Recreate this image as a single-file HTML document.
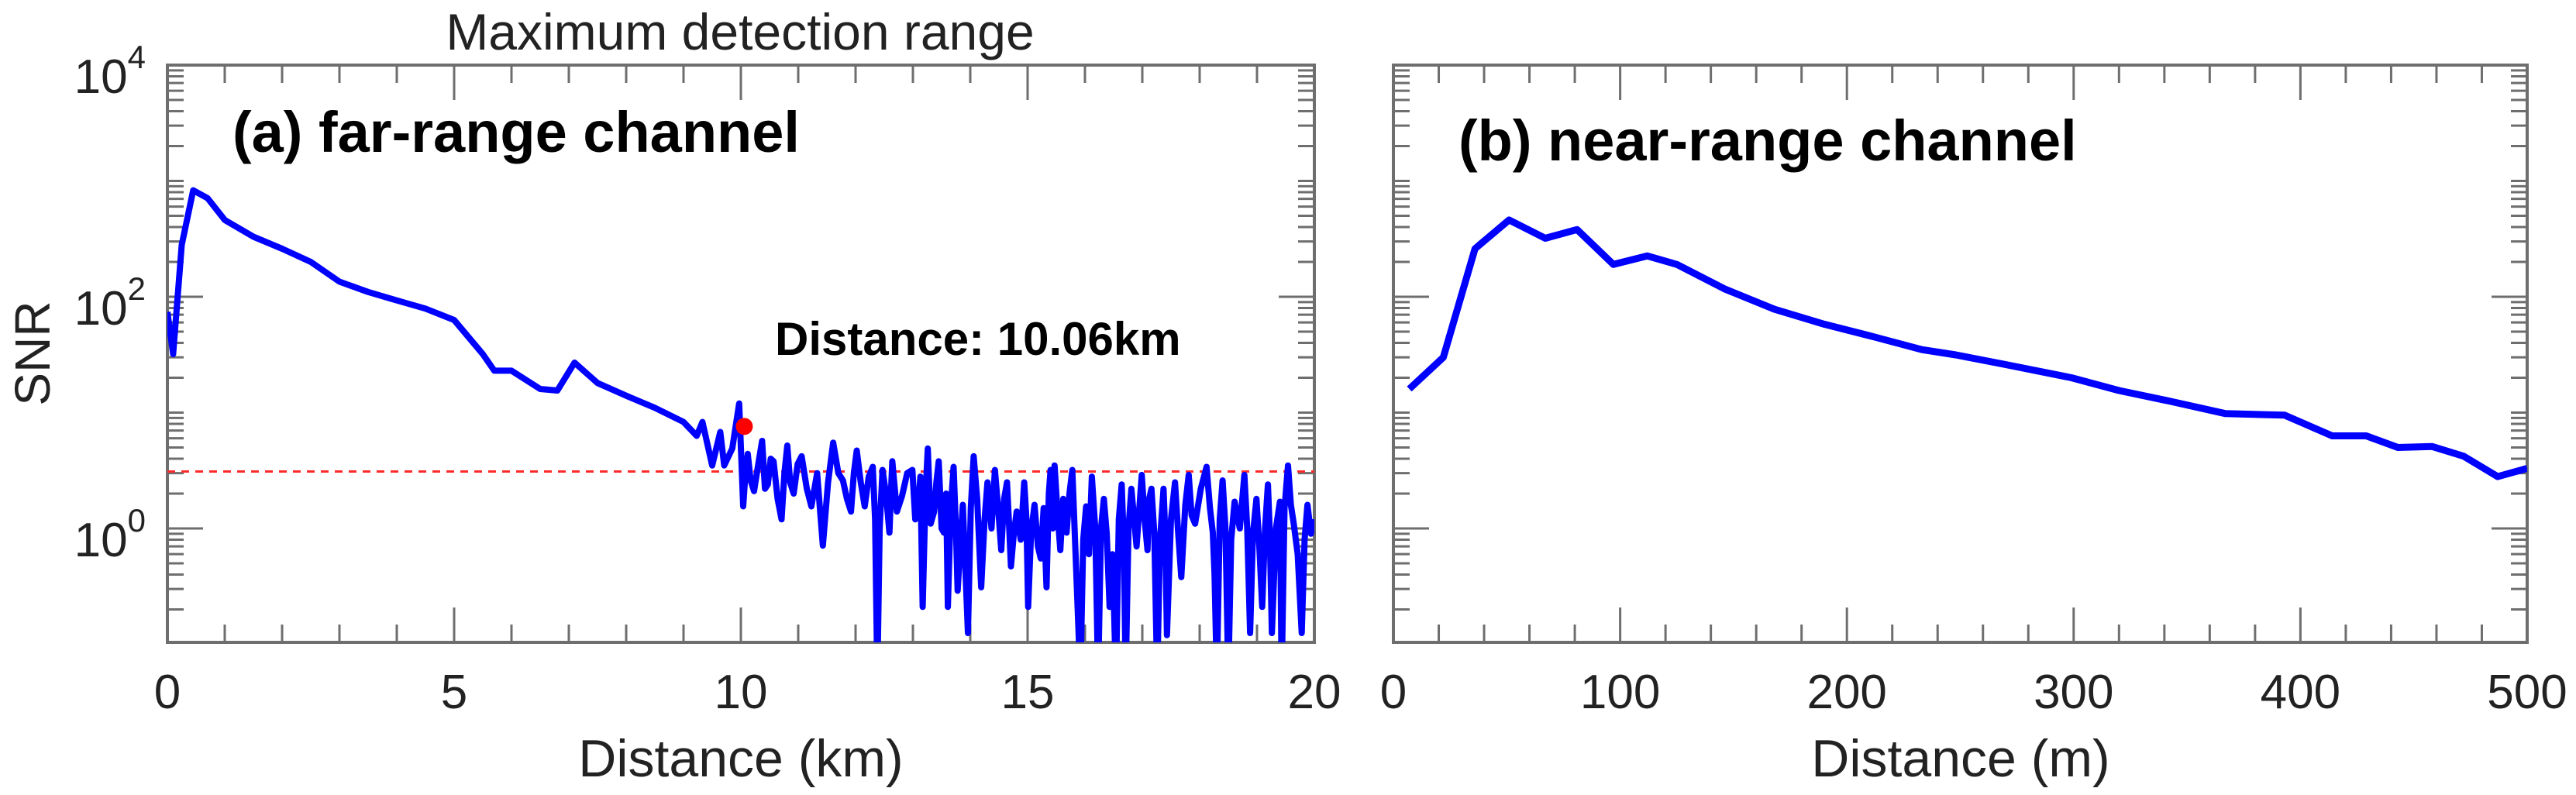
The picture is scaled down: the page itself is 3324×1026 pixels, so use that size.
<!DOCTYPE html>
<html><head><meta charset="utf-8"><style>
html,body{margin:0;padding:0;background:#fff;}
svg{display:block;font-family:"Liberation Sans",Arial,sans-serif;}
</style></head><body>
<svg id="chart" width="3324" height="1026" viewBox="0 0 3324 1026" xmlns="http://www.w3.org/2000/svg">
<g id="root"></g>
</svg>
<script>
// ---- Panel (a) far-range data ----
const farDist = [0,0.1,0.25,0.45,0.7,1.0,1.5,2.0,2.5,3.0,3.5,4.0,4.5,5.0,5.5,5.7,6.0,6.5,6.8,7.1,7.5,8.0,8.5,9.0,9.23,9.33,9.5,9.64,9.71,9.85,9.97,
10.04,10.08,10.12,10.17,10.23,10.30,10.37,10.42,10.47,10.52,10.57,10.64,10.71,10.76,10.81,10.86,10.92,10.99,11.06,11.15,11.23,11.33,11.43,11.52,11.61,11.70,11.78,11.85,11.92,11.97,
12.02,12.09,12.16,12.23,12.30,12.34,12.38,12.42,12.47,12.53,12.59,12.62,12.64,12.72,12.81,12.90,12.99,13.04,13.09,13.13,13.17,13.22,13.26,13.31,13.37,13.41,13.45,13.50,13.54,13.58,13.61,13.66,13.71,13.75,13.78,13.87,13.96,
14.01,14.06,14.12,14.19,14.25,14.30,14.37,14.43,14.49,14.54,14.59,14.64,14.68,14.71,14.76,14.81,14.88,14.94,14.98,15.01,15.06,15.12,15.18,15.23,15.28,15.33,15.37,15.40,15.44,15.47,15.52,15.57,15.62,15.68,15.73,15.78,15.85,15.92,15.97,
16.02,16.07,16.12,16.18,16.23,16.28,16.33,16.38,16.43,16.48,16.54,16.59,16.64,16.68,16.71,16.76,16.81,16.90,16.99,17.04,17.09,17.12,17.16,17.21,17.26,17.31,17.37,17.40,17.43,17.50,17.57,17.62,17.68,17.75,17.81,17.86,17.92,
18.02,18.12,18.18,18.23,18.26,18.30,18.35,18.40,18.45,18.50,18.55,18.61,18.70,18.78,18.83,18.88,18.93,18.99,19.04,19.09,19.14,19.19,19.22,19.26,19.33,19.40,19.43,19.48,19.54,19.59,19.64,19.71,19.78,19.83,19.88,19.94,20.0];
const farSNR = [74,32,280,830,710,460,330,260,200,135,110,93,79,63,32,23,23,16,15.5,27,18,14,11,8.3,6.3,8.3,3.5,6.8,3.5,4.9,12,
1.55,3.0,4.4,2.6,2.1,3.5,5.7,2.2,2.4,4.0,3.8,1.8,1.2,3.0,5.2,2.5,2.0,3.6,4.2,2.2,1.55,3.0,0.71,2.5,5.5,3.0,2.6,1.8,1.4,3.0,
4.7,2.5,1.55,2.8,3.4,1.2,0.05,1.0,3.2,2.0,0.92,2.2,3.8,1.4,1.9,3.0,3.2,1.2,1.5,2.8,0.21,2.0,4.9,1.1,1.4,2.5,3.8,1.0,0.92,2.0,0.21,1.5,3.4,1.0,0.29,1.6,0.125,
1.5,4.2,1.8,0.31,1.2,2.5,1.0,3.2,1.4,0.65,1.8,2.5,1.0,0.47,0.9,1.4,0.8,2.5,1.2,0.21,0.9,1.6,0.7,0.55,1.5,0.31,2.0,3.2,1.0,3.5,1.4,0.65,1.8,0.92,2.0,3.2,0.4,0.05,0.8,
1.55,0.6,2.8,1.0,0.05,1.0,1.8,0.9,0.21,0.6,0.05,1.2,2.4,0.7,0.05,1.0,2.2,0.7,2.9,1.2,0.65,1.8,2.2,0.9,0.05,0.8,2.2,0.9,0.12,1.2,2.5,1.0,0.38,1.6,2.9,1.3,1.1,
2.2,3.4,1.5,0.92,0.4,0.05,1.2,2.6,1.0,0.05,0.8,1.7,1.0,2.9,1.0,0.125,0.9,1.8,0.7,0.21,1.0,2.4,1.0,0.125,1.0,1.7,0.05,1.5,3.5,1.6,1.1,0.6,0.125,0.8,1.6,0.9,1.2];
const markerDist = [10.06];
const markerSNR = [7.6];
const thresholdSNR = [3.1];
const farXTicks = [0,5,10,15,20];
const farXTickLabels = ["0","5","10","15","20"];
// ---- Panel (b) near-range data ----
const nearDist = [7,22,36,51,67,81,97,112,125,146,168,190,212,233,248,270,299,320,342,367,393,414,429,443,458,472,487,500];
const nearSNR = [16,30,260,460,320,380,190,225,190,117,78,58,45,35,31.5,26,20,15.5,12.6,9.8,9.5,6.3,6.3,5.0,5.1,4.2,2.8,3.3];
const nearXTicks = [0,100,200,300,400,500];
const nearXTickLabels = ["0","100","200","300","400","500"];
const yTickLabels = ["10","10","10"];
const yTickExps = ["0","2","4"];

const NS="http://www.w3.org/2000/svg";
const root=document.getElementById('root');
function mk(tag,attrs,parent){const e=document.createElementNS(NS,tag);for(const k in attrs)e.setAttribute(k,attrs[k]);(parent||root).appendChild(e);return e;}
const AX="#6e6e6e";
const TOP=84,BOT=829,DEC=149.5;
function yScale(v){return TOP+(4-Math.log10(Math.max(v,1e-3)))*DEC;}
const panels=[
 {name:'far-range',x0:216,x1:1696,xmin:0,xmax:20,minor:1,ticks:farXTicks,labels:farXTickLabels},
 {name:'near-range',x0:1798,x1:3261,xmin:0,xmax:500,minor:20,ticks:nearXTicks,labels:nearXTickLabels}
];
panels.forEach((p,pi)=>{
 p.xs=v=>p.x0+(v-p.xmin)/(p.xmax-p.xmin)*(p.x1-p.x0);
 const g=mk('g',{});
 
 
 p.g=g;
 const cid='clip'+pi;
 const cp=mk('clipPath',{id:cid},g);mk('rect',{x:p.x0,y:TOP,width:p.x1-p.x0,height:BOT-TOP},cp);
 p.clip=cid;
 for(let v=p.xmin;v<=p.xmax+1e-9;v+=p.minor){
  const major=p.ticks.some(t=>Math.abs(t-v)<1e-9);
  const L=major?45:23,x=p.xs(v);
  const t1=mk('line',{x1:x,y1:BOT,x2:x,y2:BOT-L,stroke:AX,'stroke-width':3},g);
  
  
  mk('line',{x1:x,y1:TOP,x2:x,y2:TOP+L,stroke:AX,'stroke-width':3},g);
 }
 p.ticks.forEach((v,i)=>{
  const t=mk('text',{x:p.xs(v),y:914,'font-size':62,'text-anchor':'middle',fill:'#222'},g);
  t.textContent=p.labels[i];
  
  
 });
 for(let d=-1;d<4;d++){
  for(let m=1;m<=9;m++){
   if(d===-1&&m===1)continue;
   const v=m*Math.pow(10,d),y=yScale(v);
   const major=(m===1&&d%2===0);
   const L=major?46:21;
   const t2=mk('line',{x1:p.x0,y1:y,x2:p.x0+L,y2:y,stroke:AX,'stroke-width':3},g);
   
   
   mk('line',{x1:p.x1,y1:y,x2:p.x1-L,y2:y,stroke:AX,'stroke-width':3},g);
  }
 }
 const fr=mk('rect',{x:p.x0,y:TOP,width:p.x1-p.x0,height:BOT-TOP,fill:'none',stroke:AX,'stroke-width':4},g);
 
 
});
[0,2,4].forEach((d,i)=>{
 const y=yScale(Math.pow(10,d));
 const t=mk('text',{x:188,y:y+36,'font-size':62,'text-anchor':'end',fill:'#222'});
 
 
 const a=document.createElementNS(NS,'tspan');a.textContent=yTickLabels[i];t.appendChild(a);
 const b=document.createElementNS(NS,'tspan');b.setAttribute('dy','-32');b.setAttribute('font-size','42');b.textContent=yTickExps[i];t.appendChild(b);
});
const pa=panels[0],pb=panels[1];
let dA=farDist.map((v,i)=>(i?'L':'M')+pa.xs(v).toFixed(1)+','+yScale(farSNR[i]).toFixed(1)).join('');
const thr=mk('line',{x1:pa.x0,x2:pa.x1,y1:yScale(thresholdSNR[0]),y2:yScale(thresholdSNR[0]),stroke:'#ff2a2a','stroke-width':3,'stroke-dasharray':'10,8'},pa.g);


const la=mk('path',{d:dA,fill:'none',stroke:'#0000ff','stroke-width':8,'stroke-linejoin':'round','clip-path':'url(#'+pa.clip+')'},pa.g);


const dot=mk('circle',{cx:pa.xs(markerDist[0]),cy:yScale(markerSNR[0]),r:11,fill:'#ff0000'},pa.g);


let dB=nearDist.map((v,i)=>(i?'L':'M')+pb.xs(v).toFixed(1)+','+yScale(nearSNR[i]).toFixed(1)).join('');
const lb=mk('path',{d:dB,fill:'none',stroke:'#0000ff','stroke-width':9,'stroke-linejoin':'round','clip-path':'url(#'+pb.clip+')'},pb.g);


</script>
<svg style="position:absolute;left:0;top:0" width="3324" height="1026" font-family="Liberation Sans, Arial, sans-serif">
<text x="955" y="64" font-size="66" text-anchor="middle" fill="#222">Maximum detection range</text>
<text x="300" y="196" font-size="74" font-weight="bold" fill="#000">(a) far-range channel</text>
<text x="1882" y="207" font-size="74" font-weight="bold" fill="#000">(b) near-range channel</text>
<text x="1000" y="458" font-size="60" font-weight="bold" fill="#000">Distance: 10.06km</text>
<text x="0" y="0" transform="translate(64,456) rotate(-90)" font-size="64" text-anchor="middle" fill="#222">SNR</text>
<text x="956" y="1002" font-size="68" text-anchor="middle" fill="#222">Distance (km)</text>
<text x="2530" y="1002" font-size="68" text-anchor="middle" fill="#222">Distance (m)</text>
</svg>
</body></html>
